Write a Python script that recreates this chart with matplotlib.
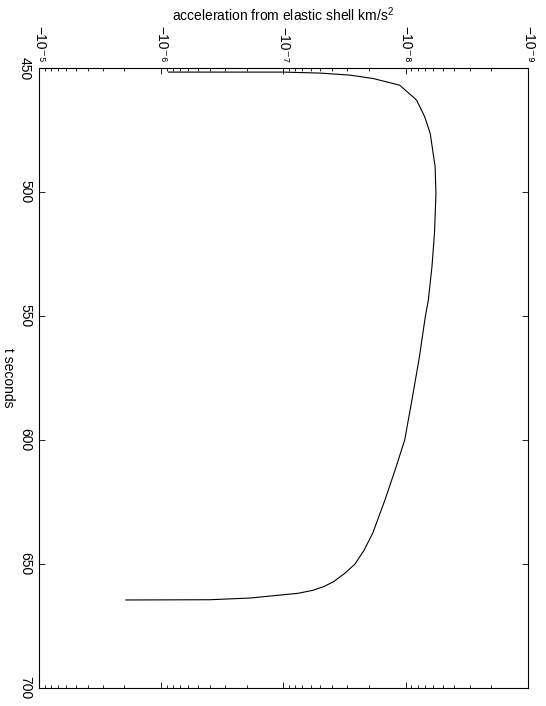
import numpy as np
import matplotlib
matplotlib.use('Agg')
import matplotlib.pyplot as plt
from matplotlib.ticker import FuncFormatter, LogLocator, NullFormatter

plt.rcParams['font.family'] = ['Liberation Sans', 'DejaVu Sans']
plt.rcParams['mathtext.fontset'] = 'custom'
plt.rcParams['mathtext.rm'] = 'Liberation Sans'
plt.rcParams['mathtext.it'] = 'Liberation Sans:italic'

# time (s) and acceleration (km/s^2)
t_sec = [451.6, 451.6, 452.0, 452.8, 454.2, 456.9, 461.6, 463, 469.6, 476.3,
         489.7, 500.5, 516.6, 530, 543.5, 550.3, 567, 584, 600, 612, 624.2,
         637.5, 644.4, 650, 653.8, 657.1, 659.1, 660.6, 661.8, 663.7, 664.4, 664.5]
accel = [-8.71e-7, -1.0e-7, -5.01e-8, -2.88e-8, -1.84e-8, -1.12e-8, -8.71e-9,
         -8.13e-9, -7.0e-9, -6.31e-9, -5.75e-9, -5.66e-9, -5.82e-9, -6.1e-9,
         -6.53e-9, -6.92e-9, -7.76e-9, -8.91e-9, -1.02e-8, -1.22e-8, -1.48e-8,
         -1.86e-8, -2.19e-8, -2.6e-8, -3.16e-8, -3.89e-8, -4.68e-8, -5.75e-8,
         -7.59e-8, -1.86e-7, -3.98e-7, -1.95e-6]
t_ticks = [450, 500, 550, 600, 650, 700]

SUP = str.maketrans('-0123456789', '\u207b\u2070\u00b9\u00b2\u00b3\u2074\u2075\u2076\u2077\u2078\u2079')


def exp_label(v, pos):
    return '\u221210' + str(int(round(np.log10(v)))).translate(SUP)


fig = plt.figure(figsize=(5.46, 7.06), dpi=100)
ax = fig.add_axes([0.0714, 0.0255, 0.8956, 0.878])

# chart is drawn turned by 90 degrees: magnitude of acceleration across, time down
ax.plot(-np.array(accel), t_sec, color='black', lw=0.8)

ax.set_xscale('log')
ax.set_xlim(1e-5, 1e-9)
ax.set_ylim(700, 450)

ax.xaxis.set_major_locator(LogLocator(base=10, numticks=10))
ax.xaxis.set_minor_locator(LogLocator(base=10, subs=np.arange(2, 10), numticks=20))
ax.xaxis.set_major_formatter(FuncFormatter(exp_label))
ax.xaxis.set_minor_formatter(NullFormatter())
ax.set_yticks(t_ticks)

ax.tick_params(axis='x', which='both', direction='in', top=True, bottom=True,
               labeltop=True, labelbottom=False, labelsize=10, labelrotation=-90, pad=4)
ax.tick_params(axis='x', which='major', length=4.5, width=0.6)
ax.tick_params(axis='x', which='minor', length=2, width=0.6)
ax.tick_params(axis='y', direction='in', left=True, right=True, length=4.5, width=0.6,
               labelsize=10, labelrotation=-90, pad=5)
for lab in ax.get_yticklabels():
    lab.set_verticalalignment('center')

for s in ax.spines.values():
    s.set_linewidth(0.8)

ax.xaxis.set_label_position('top')
ax.set_xlabel('acceleration from elastic shell km/s$^2$', fontsize=10, va='center')
ax.xaxis.set_label_coords(0.5, 1.0855)
ax.set_ylabel('t seconds', fontsize=10, rotation=-90, va='center', ha='center')
ax.yaxis.set_label_coords(-0.063, 0.5)

fig.savefig('out.png', dpi=100)
